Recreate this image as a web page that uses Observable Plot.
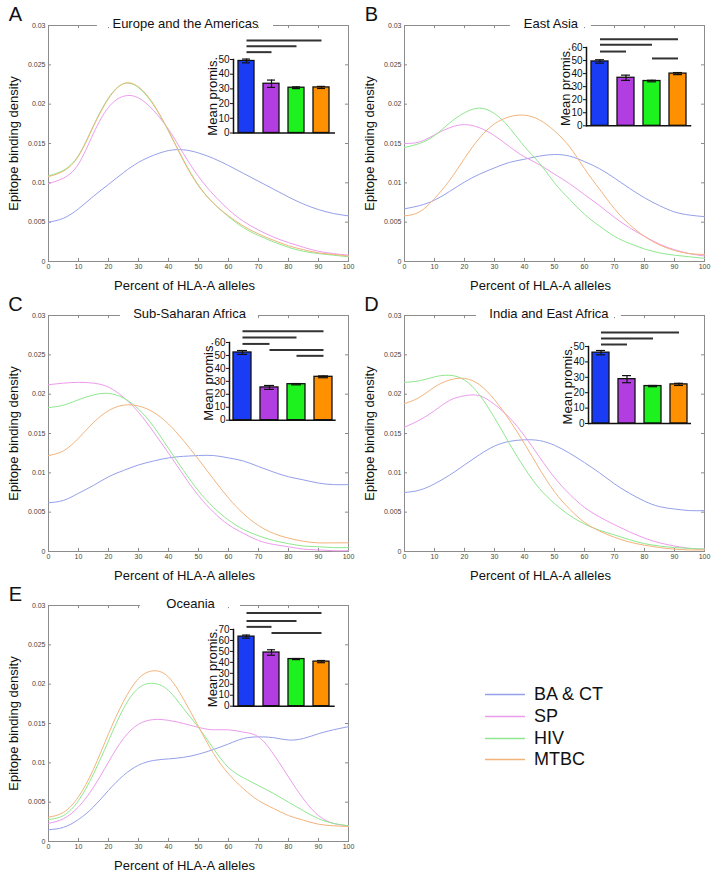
<!DOCTYPE html>
<html>
<head>
<meta charset="utf-8">
<script src="https://cdn.jsdelivr.net/npm/d3@7"></script>
<script src="https://cdn.jsdelivr.net/npm/@observablehq/plot@0.6"></script>
<style>
  html, body { margin: 0; padding: 0; background: #fff; }
  #fig { position: relative; width: 716px; height: 878px; background: #fff; font-family: "Liberation Sans", Arial, sans-serif; overflow: hidden; }
</style>
</head>
<body>
<div id="fig"></div>
<script>
// ---------------- data ----------------
const letters = ["A", "B", "C", "D", "E"];
const regions = ["Europe and the Americas", "East Asia", "Sub-Saharan Africa", "India and East Africa", "Oceania"];
const series = ["BA & CT", "SP", "HIV", "MTBC"];
const lineColors = ["#95a0ea", "#ec9cec", "#8fe88f", "#f3b47c"];
const barColors = ["#1a3cf5", "#b23de0", "#1ef21e", "#ff9000"];

const xPercent = [0, 5, 10, 15, 20, 25, 30, 35, 40, 45, 50, 55, 60, 65, 70, 75, 80, 85, 90, 95, 100];
const xTicks = [0, 10, 20, 30, 40, 50, 60, 70, 80, 90, 100];
const yTicks = [0, 0.005, 0.01, 0.015, 0.02, 0.025, 0.03];

// density curves (Epitope binding density vs percent of HLA-A alleles)
const densA_BACT = [0.0050,0.0055,0.0067,0.0083,0.0098,0.0113,0.0126,0.0135,0.0141,0.0142,0.0138,0.0131,0.0122,0.0112,0.0102,0.0092,0.0082,0.0073,0.0066,0.0061,0.0058];
const densA_SP   = [0.0099,0.0106,0.0124,0.0163,0.0196,0.0210,0.0208,0.0192,0.0168,0.0137,0.0108,0.0085,0.0066,0.0051,0.0040,0.0031,0.0024,0.0018,0.0013,0.0010,0.0008];
const densA_HIV  = [0.0109,0.0116,0.0135,0.0173,0.0208,0.0226,0.0221,0.0199,0.0166,0.0129,0.0097,0.0074,0.0057,0.0043,0.0033,0.0025,0.0018,0.0013,0.0010,0.0008,0.0006];
const densA_MTBC = [0.0108,0.0115,0.0134,0.0172,0.0207,0.0226,0.0222,0.0200,0.0166,0.0128,0.0096,0.0074,0.0058,0.0045,0.0035,0.0027,0.0020,0.0015,0.0011,0.0009,0.0007];

const densB_BACT = [0.0067,0.0071,0.0078,0.0089,0.0101,0.0111,0.0119,0.0126,0.0130,0.0134,0.0136,0.0134,0.0127,0.0118,0.0106,0.0093,0.0081,0.0071,0.0063,0.0059,0.0057];
const densB_SP   = [0.0150,0.0152,0.0161,0.0170,0.0174,0.0170,0.0160,0.0146,0.0133,0.0123,0.0111,0.0099,0.0085,0.0071,0.0056,0.0043,0.0032,0.0022,0.0015,0.0010,0.0007];
const densB_HIV  = [0.0145,0.0150,0.0160,0.0176,0.0189,0.0195,0.0188,0.0170,0.0146,0.0125,0.0100,0.0079,0.0060,0.0045,0.0032,0.0023,0.0016,0.0011,0.0008,0.0006,0.0004];
const densB_MTBC = [0.0058,0.0063,0.0080,0.0103,0.0131,0.0157,0.0175,0.0184,0.0186,0.0180,0.0166,0.0146,0.0118,0.0092,0.0067,0.0047,0.0032,0.0021,0.0014,0.0010,0.0009];

const densC_BACT = [0.0062,0.0065,0.0074,0.0084,0.0095,0.0103,0.0110,0.0115,0.0119,0.0121,0.0122,0.0122,0.0119,0.0115,0.0108,0.0101,0.0095,0.0091,0.0087,0.0085,0.0085];
const densC_SP   = [0.0212,0.0214,0.0215,0.0214,0.0209,0.0196,0.0177,0.0152,0.0125,0.0097,0.0071,0.0050,0.0034,0.0023,0.0014,0.0009,0.0006,0.0003,0.0002,0.0001,0.0001];
const densC_HIV  = [0.0183,0.0186,0.0193,0.0199,0.0201,0.0195,0.0181,0.0159,0.0131,0.0103,0.0077,0.0056,0.0040,0.0028,0.0020,0.0014,0.0010,0.0007,0.0006,0.0005,0.0005];
const densC_MTBC = [0.0122,0.0128,0.0144,0.0164,0.0179,0.0186,0.0185,0.0177,0.0162,0.0141,0.0117,0.0092,0.0068,0.0048,0.0033,0.0023,0.0017,0.0013,0.0011,0.0011,0.0011];

const densD_BACT = [0.0075,0.0078,0.0086,0.0097,0.0110,0.0123,0.0134,0.0140,0.0142,0.0141,0.0135,0.0125,0.0113,0.0100,0.0086,0.0074,0.0064,0.0057,0.0054,0.0052,0.0052];
const densD_SP   = [0.0158,0.0167,0.0179,0.0192,0.0198,0.0198,0.0187,0.0170,0.0147,0.0120,0.0094,0.0073,0.0056,0.0044,0.0034,0.0025,0.0017,0.0011,0.0007,0.0004,0.0003];
const densD_HIV  = [0.0215,0.0217,0.0222,0.0224,0.0218,0.0199,0.0170,0.0137,0.0106,0.0080,0.0061,0.0046,0.0035,0.0027,0.0021,0.0015,0.0010,0.0007,0.0005,0.0004,0.0003];
const densD_MTBC = [0.0188,0.0196,0.0209,0.0218,0.0220,0.0212,0.0193,0.0167,0.0137,0.0105,0.0076,0.0054,0.0037,0.0026,0.0018,0.0012,0.0008,0.0005,0.0003,0.0002,0.0002];

const densE_BACT = [0.0015,0.0018,0.0028,0.0044,0.0065,0.0084,0.0097,0.0103,0.0105,0.0107,0.0111,0.0117,0.0124,0.0131,0.0133,0.0132,0.0129,0.0131,0.0137,0.0142,0.0146];
const densE_SP   = [0.0023,0.0029,0.0044,0.0069,0.0101,0.0131,0.0149,0.0155,0.0154,0.0150,0.0145,0.0142,0.0142,0.0139,0.0133,0.0111,0.0082,0.0054,0.0033,0.0023,0.0020];
const densE_HIV  = [0.0028,0.0033,0.0052,0.0086,0.0128,0.0169,0.0195,0.0201,0.0192,0.0169,0.0145,0.0118,0.0094,0.0081,0.0071,0.0061,0.0050,0.0039,0.0029,0.0023,0.0020];
const densE_MTBC = [0.0031,0.0037,0.0057,0.0092,0.0137,0.0178,0.0207,0.0217,0.0209,0.0181,0.0146,0.0112,0.0086,0.0067,0.0052,0.0042,0.0033,0.0027,0.0022,0.0020,0.0019];

// inset bar charts: mean promiscuity, SEM
const meanA = [49.0, 33.5, 30.8, 31.0]; const errA = [1.3, 2.5, 0.6, 0.7];
const meanB = [49.3, 36.8, 34.3, 40.0]; const errB = [1.3, 2.0, 0.6, 0.8];
const meanC = [52.3, 25.3, 27.8, 33.5]; const errC = [1.5, 1.5, 0.5, 0.7];
const meanD = [46.0, 28.8, 24.3, 25.4]; const errD = [1.4, 2.3, 0.4, 0.7];
const meanE = [63.5, 49.0, 43.0, 40.7]; const errE = [1.4, 2.5, 0.5, 1.0];
const insetMax = [50, 60, 60, 50, 70];

// significance brackets: [from series index, to series index, height in promiscuity units]
const sigA = [[0, 3, 63], [0, 2, 59], [0, 1, 55]];
const sigB = [[0, 3, 66.4], [0, 2, 62.1], [0, 1, 56.9], [2, 3, 51.6]];
const sigC = [[0, 3, 68.7], [0, 2, 63.9], [0, 1, 58.9], [1, 3, 54.3], [2, 3, 49.7]];
const sigD = [[0, 3, 59.1], [0, 2, 55.2], [0, 1, 51.3]];
const sigE = [[0, 3, 85.1], [0, 2, 77.8], [0, 1, 72.4], [1, 3, 66.9]];

// ---------------- layout (page pixels / data-x for title gap) ----------------
const panelOrigins = [[0, 0], [356, 0], [0, 290], [356, 290], [0, 580]];
const titleGaps = [[16.3, 75], [35.3, 62.3], [24, 70], [24, 72.3], [30.7, 64]];
const insetBoxes = [ // left(axis), top(ymax), right, bottom(baseline)
  [233, 58.5, 335, 132],
  [585.7, 46.7, 691, 125],
  [229.3, 342.3, 336, 420],
  [588, 345.7, 691, 422.7],
  [233.3, 629.3, 335, 706]
];

const dens = [
  [densA_BACT, densA_SP, densA_HIV, densA_MTBC],
  [densB_BACT, densB_SP, densB_HIV, densB_MTBC],
  [densC_BACT, densC_SP, densC_HIV, densC_MTBC],
  [densD_BACT, densD_SP, densD_HIV, densD_MTBC],
  [densE_BACT, densE_SP, densE_HIV, densE_MTBC]
];
const means = [meanA, meanB, meanC, meanD, meanE];
const errs = [errA, errB, errC, errD, errE];
const sigs = [sigA, sigB, sigC, sigD, sigE];

const FONT = "'Liberation Sans', Arial, sans-serif";
const fig = document.getElementById("fig");
const frameGray = "#8c8c8c";

function mainPanel(p) {
  const rows = [];
  dens[p].forEach((arr, s) => arr.forEach((v, i) => rows.push({x: xPercent[i], y: v, series: series[s]})));
  const [ox, oy] = panelOrigins[p];
  const gap = titleGaps[p];
  return Plot.plot({
    width: 358, height: 298,
    marginLeft: 48, marginRight: 10, marginTop: 25, marginBottom: 37,
    x: {domain: [0, 100]},
    y: {domain: [0, 0.03]},
    color: {domain: series, range: lineColors},
    style: {position: "absolute", left: ox + "px", top: oy + "px", background: "transparent", overflow: "visible", fontFamily: FONT},
    marks: [
      Plot.frame({stroke: frameGray}),
      Plot.ruleX(xTicks, {x: d => d, y1: 0, y2: 0.0004, stroke: frameGray}),
      Plot.ruleX(xTicks, {x: d => d, y1: 0.0296, y2: 0.03, stroke: frameGray}),
      Plot.ruleY(yTicks, {y: d => d, x1: 0, x2: 1, stroke: frameGray}),
      Plot.ruleY(yTicks, {y: d => d, x1: 99, x2: 100, stroke: frameGray}),
      Plot.ruleY([0.03], {x1: gap[0], x2: gap[1], stroke: "white", strokeWidth: 3}),
      Plot.axisX(xTicks, {tickSize: 0, tickPadding: 3, fontSize: 7, fill: "#444", label: null}),
      Plot.axisY(yTicks, {tickSize: 0, tickPadding: 3, fontSize: 7, fill: "#444", label: null, tickFormat: d => String(d)}),
      Plot.line(rows, {x: "x", y: "y", stroke: "series", z: "series", curve: "natural", strokeWidth: 1}),
      Plot.text([regions[p]], {x: (gap[0] + gap[1]) / 2, y: 0.03, dy: -2, fontSize: 13, fill: "#111", textAnchor: "middle", lineAnchor: "middle"}),
      Plot.text([letters[p]], {frameAnchor: "top-left", dx: -33, dy: -11, fontSize: 20, fill: "#111", textAnchor: "middle", lineAnchor: "middle"}),
      Plot.text(["Epitope binding density"], {frameAnchor: "left", rotate: -90, dx: -35, fontSize: 13, fill: "#111", textAnchor: "middle", lineAnchor: "middle"}),
      Plot.text(["Percent of HLA-A alleles"], {frameAnchor: "bottom", dx: -14, dy: 24, fontSize: 13, fill: "#111", textAnchor: "middle", lineAnchor: "middle"})
    ]
  });
}

function insetPanel(p) {
  const [l, t, r, b] = insetBoxes[p];
  const mL = 44, mT = 40, mR = 4, mB = 8;
  const rows = series.map((s, i) => ({series: s, mean: means[p][i], err: errs[p][i]}));
  const ticks = d3.range(0, insetMax[p] + 1, 10);
  const sig = sigs[p];
  return Plot.plot({
    width: (r - l) + mL + mR, height: (b - t) + mT + mB,
    marginLeft: mL, marginTop: mT, marginRight: mR, marginBottom: mB,
    x: {type: "band", domain: series, paddingInner: 0.35, paddingOuter: 0.15, axis: null},
    y: {domain: [0, insetMax[p]], axis: null},
    color: {domain: series, range: barColors},
    style: {position: "absolute", left: (l - mL) + "px", top: (t - mT) + "px", background: "transparent", overflow: "visible", fontFamily: FONT},
    marks: [
      Plot.barY(rows, {x: "series", y: "mean", fill: "series", stroke: "#111", strokeWidth: 1.3}),
      Plot.ruleX(rows, {x: "series", y1: d => d.mean - d.err, y2: d => d.mean + d.err, stroke: "#111", strokeWidth: 1.2}),
      Plot.tickY(rows, {x: "series", y: d => d.mean + d.err, stroke: "#111", strokeWidth: 1.2, insetLeft: 4, insetRight: 4}),
      Plot.tickY(rows, {x: "series", y: d => d.mean - d.err, stroke: "#111", strokeWidth: 1.2, insetLeft: 4, insetRight: 4}),
      Plot.frame({anchor: "left", stroke: "#111", strokeWidth: 1.5}),
      Plot.ruleY([0], {stroke: "#111", strokeWidth: 1.5}),
      Plot.axisY(ticks, {tickSize: 3, tickPadding: 1, fontSize: 10, fill: "#111", stroke: "#111", label: null}),
      Plot.link(sig, {x1: d => series[d[0]], x2: d => series[d[1]], y1: d => d[2], y2: d => d[2], stroke: "#333", strokeWidth: 2}),
      Plot.text(["Mean promis."], {frameAnchor: "left", rotate: -90, dx: -21, fontSize: 13, fill: "#111", textAnchor: "middle", lineAnchor: "middle"})
    ]
  });
}

for (let p = 0; p < 5; p++) {
  fig.appendChild(mainPanel(p));
  fig.appendChild(insetPanel(p));
}

// legend
const legendY = [694, 716, 738, 759];
const leg = d3.select(fig).append("svg")
  .attr("width", 716).attr("height", 878)
  .style("position", "absolute").style("left", "0px").style("top", "0px")
  .style("pointer-events", "none");
const items = leg.selectAll("g").data(series).join("g")
  .attr("transform", (d, i) => `translate(485,${legendY[i]})`);
items.append("line").attr("x1", 0).attr("x2", 40).attr("y1", 0.5).attr("y2", 0.5)
  .attr("stroke", (d, i) => lineColors[i]).attr("stroke-width", 1.3);
items.append("text").attr("x", 49).attr("y", 0).attr("dy", "0.35em")
  .attr("font-family", FONT).attr("font-size", 18).attr("fill", "#111").text(d => d);
</script>
</body>
</html>
